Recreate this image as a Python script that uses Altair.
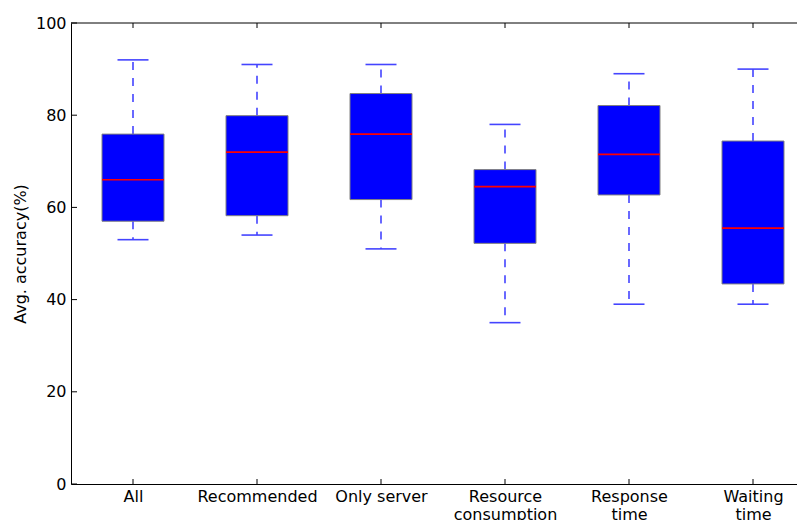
import json
import altair as alt
import pandas as pd

# ---- data ----
categories = ["All", "Recommended", "Only server", "Resource\nconsumption",
              "Response\ntime", "Waiting\ntime"]
whisker_low = [53, 54, 51, 35, 39, 39]
q1 = [57.0, 58.2, 61.7, 52.2, 62.7, 43.4]
median = [66.0, 72.0, 75.9, 64.5, 71.5, 55.5]
q3 = [75.9, 79.9, 84.7, 68.2, 82.1, 74.4]
whisker_high = [92, 91, 91, 78, 89, 90]
y_ticks = [0, 20, 40, 60, 80, 100]

positions = list(range(1, len(categories) + 1))

df = pd.DataFrame({
    "category": categories,
    "pos": positions,
    "low": whisker_low,
    "q1": q1,
    "median": median,
    "q3": q3,
    "high": whisker_high,
})
yt = pd.DataFrame({"v": y_ticks})
xt = pd.DataFrame({"pos": positions})

# plot area clipped at the right edge of the page (as in the reference)
W, H = 726, 461
UNIT = 124.0
FONT = "DejaVu Sans"

label_arrays = json.dumps([[""]] + [c.split("\n") for c in categories])

xscale = alt.Scale(domain=[0.5, 0.5 + W / UNIT], nice=False, zero=False)
yscale = alt.Scale(domain=[0, 100], nice=False, zero=False)

common = dict(labelFont=FONT, titleFont=FONT, labelFontSize=16, titleFontSize=16,
              labelColor="black", titleColor="black", domainColor="black",
              domainWidth=1, ticks=False, grid=False)

xaxis = alt.Axis(values=positions, title=None, labelExpr=f"{label_arrays}[datum.value]",
                 labelPadding=4, labelLineHeight=18, labelOverlap=False,
                 labelBaseline="top", **common)
yaxis = alt.Axis(values=y_ticks, title="Avg. accuracy(%)", format="d", labelPadding=5,
                 titleAngle=270, titleX=-46, titleY=H / 2,
                 titleAlign="center", titleBaseline="alphabetic",
                 titleFontWeight="normal", **common)


def X(field):
    return alt.X(f"{field}:Q", scale=xscale, axis=xaxis)


def Y(field):
    return alt.Y(f"{field}:Q", scale=yscale, axis=yaxis)


base = alt.Chart(df).transform_calculate(
    left="datum.pos - 0.25", right="datum.pos + 0.25",
    capl="datum.pos - 0.125", capr="datum.pos + 0.125")

whisk_color = "#4444ff"
upper_whisker = base.mark_rule(color=whisk_color, strokeWidth=1.6, strokeDash=[8, 8]).encode(
    x=X("pos"), y=Y("q3"), y2="high:Q")
lower_whisker = base.mark_rule(color=whisk_color, strokeWidth=1.6, strokeDash=[8, 8]).encode(
    x=X("pos"), y=Y("q1"), y2="low:Q")
box = base.mark_rect(fill="#0000ff", stroke="#808080", strokeWidth=1).encode(
    x=X("left"), x2="right:Q", y=Y("q1"), y2="q3:Q")
med = base.mark_rule(color="#ff0000", strokeWidth=1.6).encode(
    x=X("left"), x2="right:Q", y=Y("median"))
cap_hi = base.mark_rule(color=whisk_color, strokeWidth=1.6).encode(
    x=X("capl"), x2="capr:Q", y=Y("high"))
cap_lo = base.mark_rule(color=whisk_color, strokeWidth=1.6).encode(
    x=X("capl"), x2="capr:Q", y=Y("low"))

# inward ticks (matplotlib classic style)
ytick_left = alt.Chart(yt).mark_rule(color="black", strokeWidth=1).encode(
    y=Y("v"), x=alt.value(0), x2=alt.value(6))
xtick_bottom = alt.Chart(xt).mark_rule(color="black", strokeWidth=1).encode(
    x=X("pos"), y=alt.value(H), y2=alt.value(H - 5))
xtick_top = alt.Chart(xt).mark_rule(color="black", strokeWidth=1).encode(
    x=X("pos"), y=alt.value(0), y2=alt.value(5))
top_spine = alt.Chart(pd.DataFrame({"a": [0]})).mark_rule(color="black", strokeWidth=1).encode(
    x=alt.value(0), x2=alt.value(W), y=alt.value(0))

chart = alt.layer(
    upper_whisker, lower_whisker, box, med, cap_hi, cap_lo,
    ytick_left, xtick_bottom, xtick_top, top_spine,
).properties(
    width=W, height=H,
    background="white",
    autosize=alt.AutoSizeParams(type="none"),
    padding={"left": 63, "top": 15, "right": 0, "bottom": 36},
).configure_view(stroke=None)

chart.save("out.html", embed_options={"renderer": "svg", "actions": False})
